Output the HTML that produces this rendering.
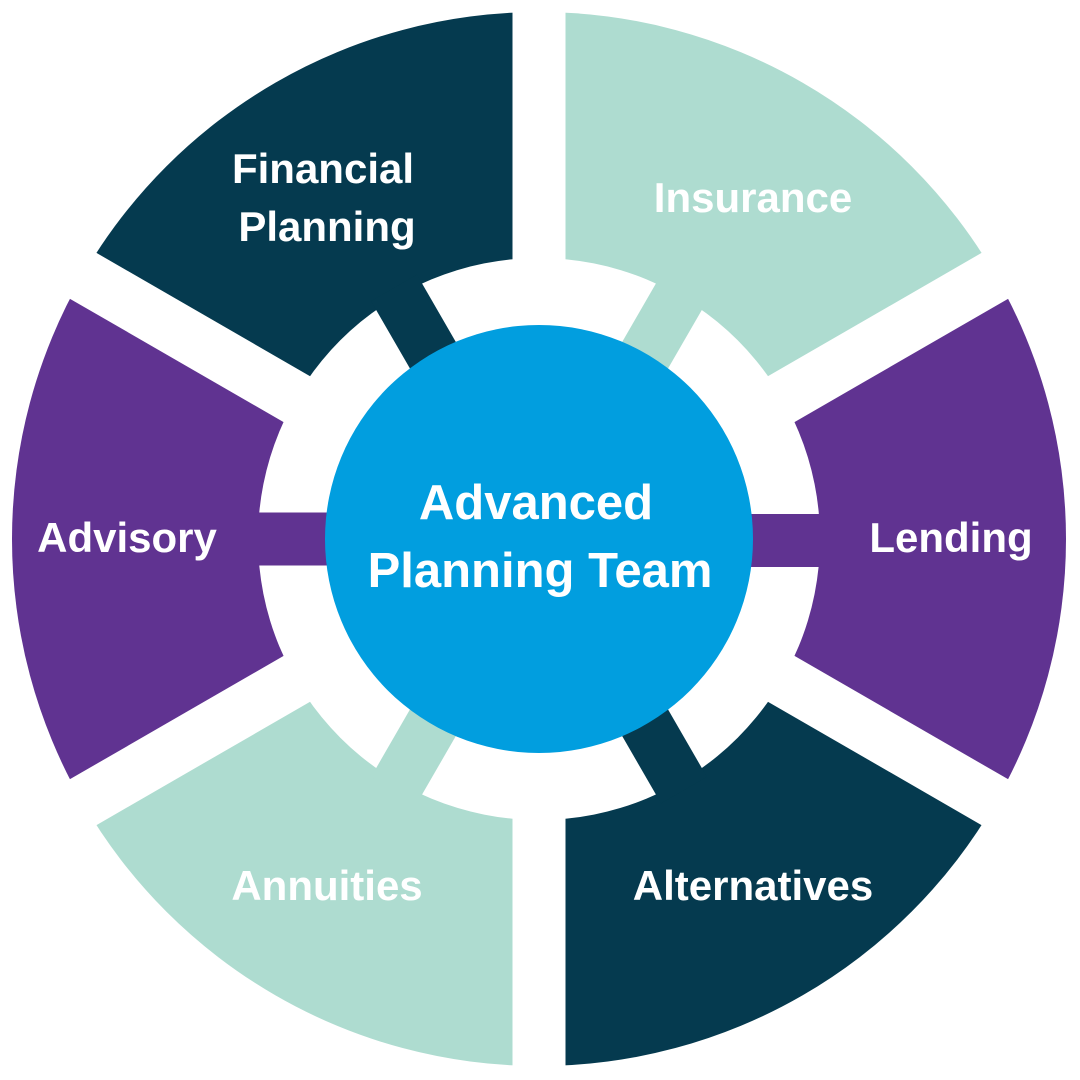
<!DOCTYPE html>
<html><head><meta charset="utf-8"><style>
html,body{margin:0;padding:0;background:#fff;width:1080px;height:1080px;overflow:hidden;position:relative;}
svg{display:block;position:absolute;top:0;left:0;}
text{font-family:"Liberation Sans",sans-serif;font-weight:bold;fill:#fff;text-anchor:middle;}
</style></head><body>
<svg width="1080" height="1080" viewBox="0 0 1080 1080">
<g transform="translate(539,539)">
  <g>
    <path transform="rotate(-60)" d="M0 0 L456.4 -263.5 A527 527 0 0 1 456.4 263.5 Z" fill="#aedcd0"/>
    <path transform="rotate(0)" d="M0 0 L456.4 -263.5 A527 527 0 0 1 456.4 263.5 Z" fill="#603391"/>
    <path transform="rotate(60)" d="M0 0 L456.4 -263.5 A527 527 0 0 1 456.4 263.5 Z" fill="#053a4f"/>
    <path transform="rotate(120)" d="M0 0 L456.4 -263.5 A527 527 0 0 1 456.4 263.5 Z" fill="#aedcd0"/>
    <path transform="rotate(180)" d="M0 0 L456.4 -263.5 A527 527 0 0 1 456.4 263.5 Z" fill="#603391"/>
    <path transform="rotate(240)" d="M0 0 L456.4 -263.5 A527 527 0 0 1 456.4 263.5 Z" fill="#053a4f"/>
  </g>
  <circle r="281" fill="#fff"/>
  <rect x="-530" y="-26.5" width="1060" height="53" fill="#fff" transform="rotate(90)"/>
  <rect x="-530" y="-26.5" width="1060" height="53" fill="#fff" transform="rotate(30)"/>
  <rect x="-530" y="-26.5" width="1060" height="53" fill="#fff" transform="rotate(-30)"/>
  <rect x="190" y="-26.5" width="100" height="53" fill="#aedcd0" transform="rotate(-60)"/>
  <rect x="190" y="-25" width="100" height="53" fill="#603391" transform="rotate(0)"/>
  <rect x="190" y="-26.5" width="100" height="53" fill="#053a4f" transform="rotate(60)"/>
  <rect x="190" y="-26.5" width="100" height="53" fill="#aedcd0" transform="rotate(120)"/>
  <rect x="190" y="-26.5" width="100" height="53" fill="#603391" transform="rotate(180)"/>
  <rect x="190" y="-26.5" width="100" height="53" fill="#053a4f" transform="rotate(240)"/>
  <circle r="214" fill="#019edf"/>
</g>
<text x="323" y="183" font-size="42">Financial</text>
<text x="327" y="241" font-size="42">Planning</text>
<text x="753" y="212" font-size="42">Insurance</text>
<text x="951" y="552" font-size="42">Lending</text>
<text x="753" y="900" font-size="42">Alternatives</text>
<text x="327" y="900" font-size="42">Annuities</text>
<text x="127" y="552" font-size="42">Advisory</text>
<text x="536" y="519" font-size="49">Advanced</text>
<text x="540" y="587" font-size="49">Planning Team</text>
</svg>
</body></html>
